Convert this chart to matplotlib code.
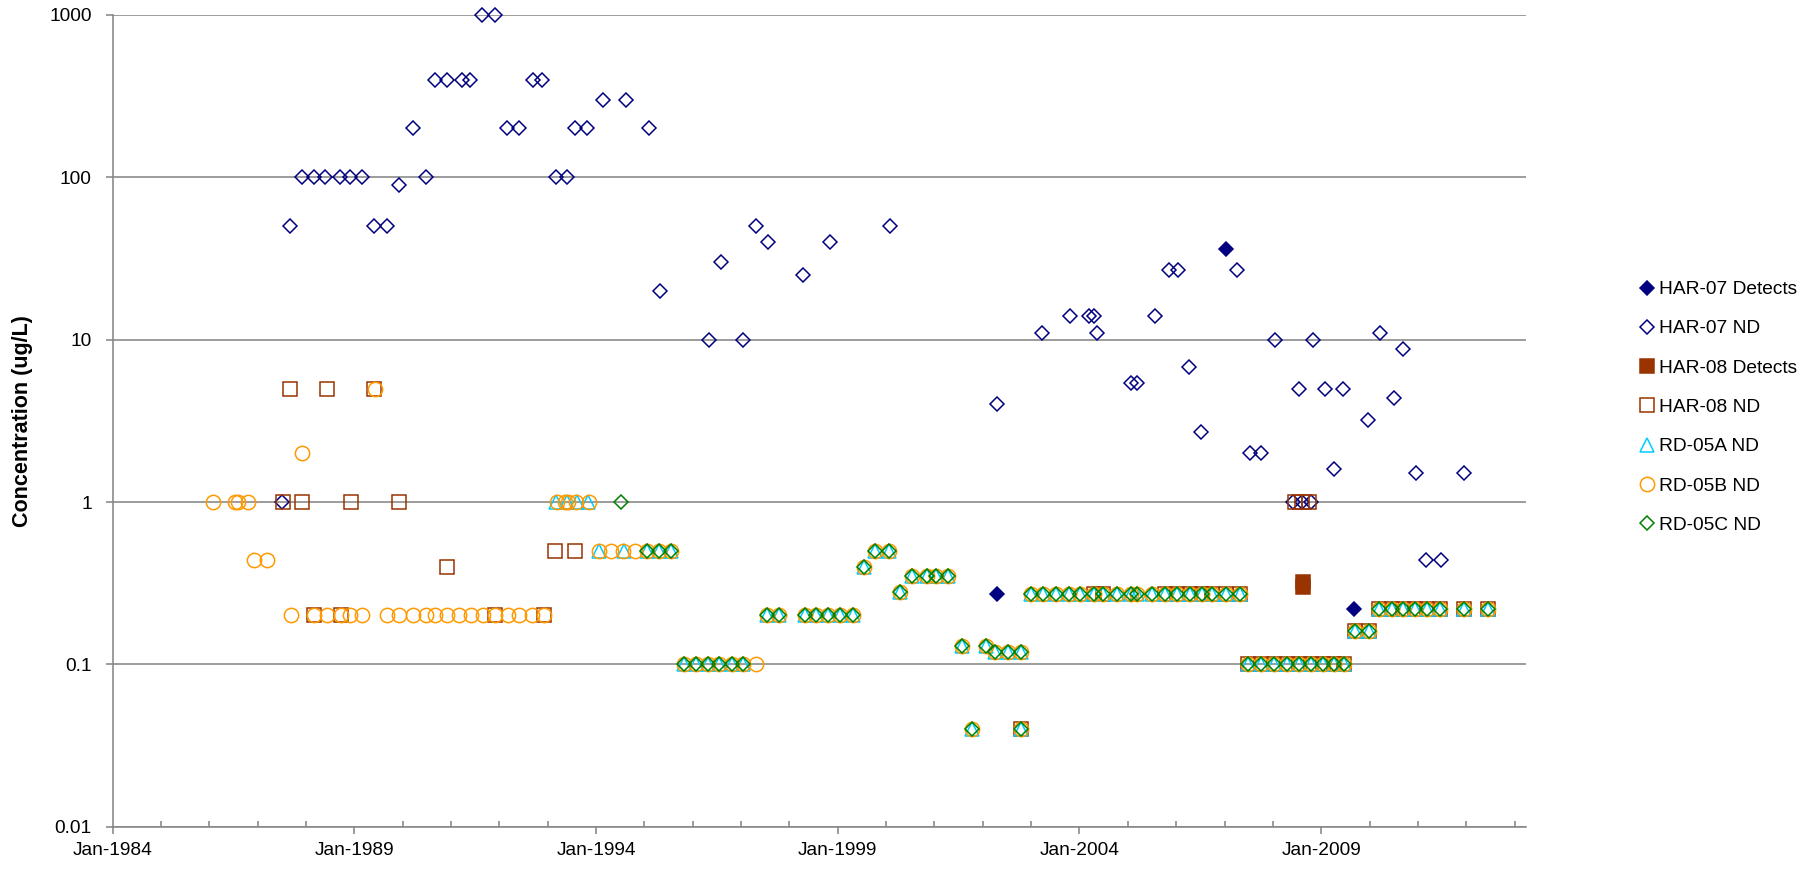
import matplotlib
matplotlib.use("Agg")
import matplotlib.pyplot as plt
from matplotlib.ticker import FixedLocator, NullFormatter, NullLocator

# ---------------- data (decimal years, ug/L) ----------------
har07_det_x = [2002.29, 2007.03, 2009.68]
har07_det_y = [0.27, 36, 0.22]

har07_nd_x = [1987.51, 1987.67, 1987.91, 1988.16, 1988.40, 1988.71, 1988.92, 1989.16,
              1989.40, 1989.67, 1989.93, 1990.22, 1990.48, 1990.67, 1990.91, 1991.22,
              1991.40, 1991.65, 1991.91, 1992.16, 1992.40, 1992.70, 1992.89, 1993.18,
              1993.41, 1993.57, 1993.82, 1994.14, 1994.62, 1995.10, 1995.33, 1996.34,
              1996.59, 1997.05, 1997.30, 1997.56, 1998.29, 1998.83, 2000.08, 2002.29,
              2003.22, 2003.81, 2004.20, 2004.30, 2004.36, 2005.07, 2005.19, 2005.57,
              2005.86, 2006.03, 2006.27, 2006.52, 2007.26, 2007.53, 2007.75, 2008.05,
              2008.42, 2008.55, 2008.60, 2008.78, 2008.82, 2009.07, 2009.26, 2009.45,
              2009.96, 2010.22, 2010.51, 2010.70, 2010.96, 2011.17, 2011.47, 2011.96]
har07_nd_y = [1.0, 50, 100, 100, 100, 100, 100, 100,
              50, 50, 90, 200, 100, 400, 400, 400,
              400, 1000, 1000, 200, 200, 400, 400, 100,
              100, 200, 200, 300, 300, 200, 20, 10,
              30, 10, 50, 40, 25, 40, 50, 4.0,
              11, 14, 14, 14, 11, 5.4, 5.4, 14,
              27, 27, 6.8, 2.7, 27, 2.0, 2.0, 10,
              1.0, 5.0, 1.0, 1.0, 10, 5.0, 1.6, 5.0,
              3.2, 11, 4.4, 8.8, 1.5, 0.44, 0.44, 1.5]

har08_det_x = [2008.62, 2008.62]
har08_det_y = [0.32, 0.30]

har08_nd_x = [1987.53, 1987.67, 1987.92, 1988.17, 1988.44, 1988.72, 1988.93, 1989.41,
              1989.93, 1990.91, 1991.91, 1992.92, 1993.16, 1993.57, 2002.80,
              2004.29, 2004.49, 2005.77, 2006.02, 2006.29, 2006.53, 2006.75, 2007.02, 2007.31,
              2007.49, 2007.75, 2008.02, 2008.29, 2008.53, 2008.78, 2009.03, 2009.26, 2009.48,
              2008.45, 2008.60, 2008.75, 2009.69, 2009.99,
              2010.19, 2010.46, 2010.70, 2010.94, 2011.18, 2011.46, 2011.95, 2012.44]
har08_nd_y = [1.0, 5, 1.0, 0.2, 5, 0.2, 1.0, 5,
              1.0, 0.4, 0.2, 0.2, 0.5, 0.5, 0.04,
              0.27, 0.27, 0.27, 0.27, 0.27, 0.27, 0.27, 0.27, 0.27,
              0.1, 0.1, 0.1, 0.1, 0.1, 0.1, 0.1, 0.1, 0.1,
              1.0, 1.0, 1.0, 0.16, 0.16,
              0.22, 0.22, 0.22, 0.22, 0.22, 0.22, 0.22, 0.22]

# samples shared by the three RD-05 wells (late 1995 onward)
rd_shared_x = [1995.83, 1996.07, 1996.31, 1996.55, 1996.81, 1997.05,
               1997.54, 1997.79, 1998.32, 1998.55, 1998.80, 1999.05, 1999.31,
               1999.55, 1999.78, 2000.05, 2000.29, 2000.54, 2000.84, 2001.03, 2001.29,
               2001.56, 2001.77, 2002.07, 2002.25, 2002.52, 2002.78, 2002.80,
               2003.00, 2003.25, 2003.52, 2003.78, 2004.02, 2004.29, 2004.49, 2004.77,
               2005.06, 2005.18, 2005.51, 2005.77, 2006.02, 2006.29, 2006.53, 2006.75,
               2007.02, 2007.31,
               2007.49, 2007.75, 2008.02, 2008.29, 2008.53, 2008.78, 2009.03, 2009.26, 2009.48,
               2009.69, 2009.99,
               2010.19, 2010.46, 2010.70, 2010.94, 2011.18, 2011.46, 2011.95, 2012.44]
rd_shared_y = [0.1, 0.1, 0.1, 0.1, 0.1, 0.1,
               0.2, 0.2, 0.2, 0.2, 0.2, 0.2, 0.2,
               0.4, 0.5, 0.5, 0.28, 0.35, 0.35, 0.35, 0.35,
               0.13, 0.04, 0.13, 0.12, 0.12, 0.12, 0.04,
               0.27, 0.27, 0.27, 0.27, 0.27, 0.27, 0.27, 0.27,
               0.27, 0.27, 0.27, 0.27, 0.27, 0.27, 0.27, 0.27,
               0.27, 0.27,
               0.1, 0.1, 0.1, 0.1, 0.1, 0.1, 0.1, 0.1, 0.1,
               0.16, 0.16,
               0.22, 0.22, 0.22, 0.22, 0.22, 0.22, 0.22, 0.22]

rd05a_early_x = [1993.17, 1993.39, 1993.60, 1993.84, 1994.06, 1994.58, 1995.05, 1995.30, 1995.55]
rd05a_early_y = [1.0, 1.0, 1.0, 1.0, 0.5, 0.5, 0.5, 0.5, 0.5]

rd05b_early_x = [1986.07, 1986.53, 1986.60, 1986.80, 1986.93, 1987.19, 1987.92, 1989.42,
                 1987.69, 1988.17, 1988.43, 1988.72, 1988.91, 1989.17, 1989.68, 1989.93,
                 1990.22, 1990.48, 1990.68, 1990.91, 1991.16, 1991.41, 1991.67, 1991.91,
                 1992.17, 1992.41, 1992.67, 1992.92,
                 1993.19, 1993.36, 1993.43, 1993.58, 1993.86,
                 1994.06, 1994.30, 1994.56, 1994.81, 1995.05, 1995.30, 1995.55, 1997.30]
rd05b_early_y = [1.0, 1.0, 1.0, 1.0, 0.44, 0.44, 2.0, 5.0,
                 0.2, 0.2, 0.2, 0.2, 0.2, 0.2, 0.2, 0.2,
                 0.2, 0.2, 0.2, 0.2, 0.2, 0.2, 0.2, 0.2,
                 0.2, 0.2, 0.2, 0.2,
                 1.0, 1.0, 1.0, 1.0, 1.0,
                 0.5, 0.5, 0.5, 0.5, 0.5, 0.5, 0.5, 0.1]

rd05c_early_x = [1994.52, 1995.05, 1995.30, 1995.55]
rd05c_early_y = [1.0, 0.5, 0.5, 0.5]

series_labels = ["HAR-07 Detects", "HAR-07 ND", "HAR-08 Detects", "HAR-08 ND",
                 "RD-05A ND", "RD-05B ND", "RD-05C ND"]
y_ticks = [0.01, 0.1, 1, 10, 100, 1000]
y_tick_labels = ["0.01", "0.1", "1", "10", "100", "1000"]
x_major = [1984, 1989, 1994, 1999, 2004, 2009]
x_major_labels = ["Jan-1984", "Jan-1989", "Jan-1994", "Jan-1999", "Jan-2004", "Jan-2009"]
x_minor = list(range(1984, 2014))
y_title = "Concentration (ug/L)"

# ---------------- figure ----------------
FONT = "Liberation Sans"
FS = 13.8
plt.rcParams["font.family"] = [FONT, "DejaVu Sans"]

fig = plt.figure(figsize=(18.18, 8.73), dpi=100)
ax = fig.add_axes([112.5 / 1818, 1 - 826.7 / 873, (1526 - 112.5) / 1818, (826.7 - 15) / 873])

GRID = "#868686"
navy, brown, cyan, orange, green = "#000080", "#993300", "#00CCFF", "#FF9900", "#008000"
mew = 1.1

h = []
h += ax.plot(har07_det_x, har07_det_y, ls="none", marker="D", ms=7.3, mfc=navy, mec=navy, mew=mew, clip_on=False, zorder=3)
h += ax.plot(har07_nd_x, har07_nd_y, ls="none", marker="D", ms=7.3, mfc="none", mec=navy, mew=mew, clip_on=False, zorder=4)
h += ax.plot(har08_det_x, har08_det_y, ls="none", marker="s", ms=10.2, mfc=brown, mec=brown, mew=mew, clip_on=False, zorder=5)
h += ax.plot(har08_nd_x, har08_nd_y, ls="none", marker="s", ms=10.4, mfc="none", mec=brown, mew=mew, clip_on=False, zorder=6)
h += ax.plot(rd05a_early_x + rd_shared_x, rd05a_early_y + rd_shared_y, ls="none", marker="^", ms=10.4, mfc="none", mec=cyan, mew=mew, clip_on=False, zorder=7)
h += ax.plot(rd05b_early_x + rd_shared_x, rd05b_early_y + rd_shared_y, ls="none", marker="o", ms=10.3, mfc="none", mec=orange, mew=mew, clip_on=False, zorder=8)
h += ax.plot(rd05c_early_x + rd_shared_x, rd05c_early_y + rd_shared_y, ls="none", marker="D", ms=7.3, mfc="none", mec=green, mew=mew, clip_on=False, zorder=9)

ax.set_yscale("log")
ax.set_ylim(0.01, 1000)
ax.set_xlim(1984, 2013.235)

ax.yaxis.set_major_locator(FixedLocator(y_ticks))
ax.yaxis.set_minor_locator(NullLocator())
ax.set_yticklabels(y_tick_labels)
ax.xaxis.set_major_locator(FixedLocator(x_major))
ax.set_xticklabels(x_major_labels)
ax.xaxis.set_minor_locator(FixedLocator(x_minor))
ax.xaxis.set_minor_formatter(NullFormatter())

ax.grid(axis="y", which="major", color=GRID, lw=1.15, zorder=0)
ax.set_axisbelow(True)
for s in ["top", "right"]:
    ax.spines[s].set_visible(False)
for s in ["left", "bottom"]:
    ax.spines[s].set_color(GRID)
    ax.spines[s].set_linewidth(1.15)

ax.tick_params(axis="y", which="major", direction="out", length=5, width=1.15, color=GRID,
               pad=10, labelsize=FS, labelcolor="black")
ax.tick_params(axis="x", which="major", direction="out", length=5, width=1.15, color=GRID,
               pad=6, labelsize=FS, labelcolor="black")
ax.tick_params(axis="x", which="minor", direction="in", length=4, width=1.15, color=GRID)

ax.set_ylabel(y_title, fontsize=15.5, fontweight="bold")
ax.yaxis.set_label_coords((33 - 112.5) / (1526 - 112.5), 0.5)

fig.legend(h, series_labels, loc="center left", bbox_to_anchor=(1638.9 / 1818, 1 - 407.3 / 873),
           frameon=False, fontsize=FS, handlelength=0.8, handletextpad=0.25,
           labelspacing=1.14, borderpad=0, borderaxespad=0, numpoints=1)

fig.savefig("out.png", dpi=100)
